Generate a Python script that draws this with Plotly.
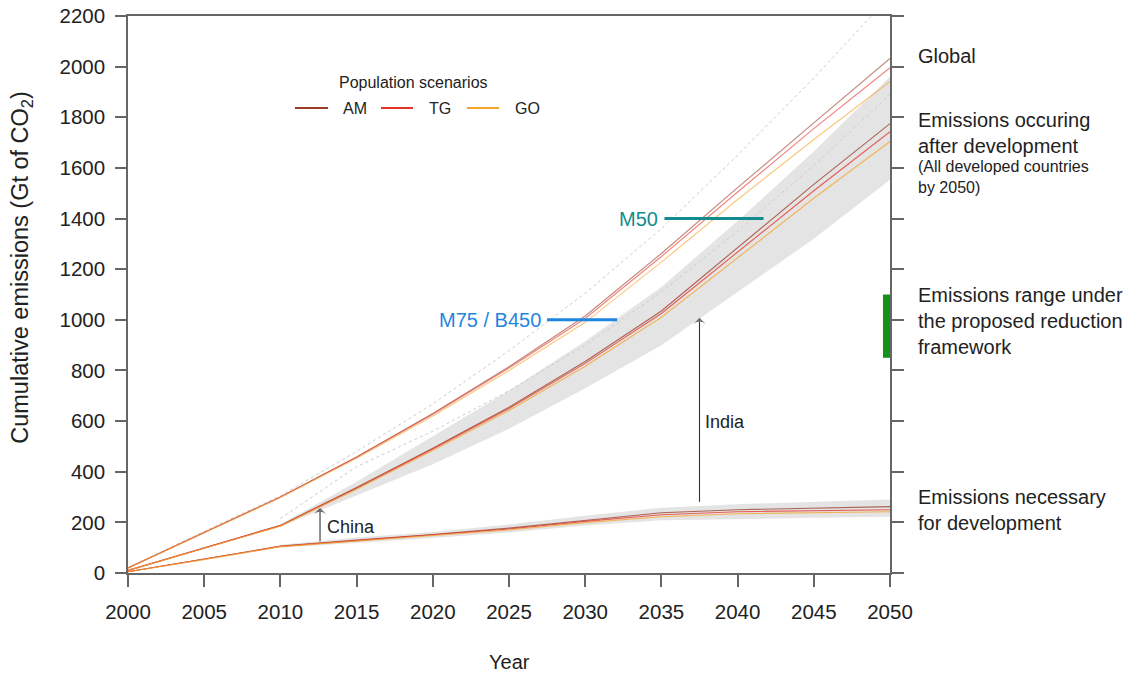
import plotly.graph_objects as go

# Years on the horizontal axis
years = [2000, 2005, 2010, 2015, 2020, 2025, 2030, 2035, 2040, 2045, 2050]
band_years = [2010, 2015, 2020, 2025, 2030, 2035, 2040, 2045, 2050]

# Global cumulative emissions (Gt CO2) per population scenario
global_am = [20, 160, 300, 458, 630, 815, 1015, 1262, 1522, 1778, 2032]
global_tg = [20, 160, 300, 457, 627, 810, 1005, 1250, 1505, 1755, 1996]
global_go = [20, 158, 298, 453, 620, 800, 990, 1228, 1475, 1712, 1941]

# Emissions occurring after development
after_am = [10, 98, 188, 338, 493, 655, 835, 1035, 1285, 1535, 1775]
after_tg = [10, 97, 187, 335, 490, 650, 828, 1025, 1268, 1510, 1743]
after_go = [10, 96, 185, 331, 484, 642, 817, 1010, 1245, 1480, 1704]

# Emissions necessary for development
need_am = [5, 55, 106, 130, 152, 177, 208, 238, 250, 256, 262]
need_tg = [5, 54, 105, 128, 150, 174, 204, 230, 242, 246, 250]
need_go = [5, 53, 104, 126, 147, 170, 199, 222, 234, 239, 242]

# Uncertainty ranges
after_band_low = [183, 305, 430, 570, 730, 900, 1110, 1320, 1553]
after_band_high = [192, 360, 540, 720, 915, 1130, 1390, 1665, 1960]
need_band_low = [100, 118, 138, 160, 188, 208, 214, 218, 222]
need_band_high = [112, 140, 162, 192, 226, 258, 272, 282, 290]

# Alternative global pathways (dotted)
alt_global_high = [20, 165, 305, 480, 668, 878, 1105, 1360, 1650, 1955, 2280]
alt_global_mid = [None, None, 215, 420, 560, 720, 900, 1110, 1350, 1610, 1890]

# Reference budgets
m75_b450 = 1000
m75_years = [2027.5, 2032.1]
m50 = 1400
m50_years = [2035.2, 2041.7]
framework_range = [850, 1100]

# Annotated arrows
china_year, china_from, china_to = 2012.6, 125, 257
india_year, india_from, india_to = 2037.5, 281, 1008

y_ticks = list(range(0, 2201, 200))
x_ticks = list(range(2000, 2051, 5))

FONT = "Arial, Liberation Sans, sans-serif"
TXT = "#222222"
AXIS = "#666666"
C_AM = "#9a3b25"
C_TG = "#e8322b"
C_GO = "#f5a52a"
BAND = "rgba(205,205,205,0.55)"

fig = go.Figure()


def band(xs, lo, hi):
    fig.add_trace(go.Scatter(x=xs, y=lo, mode="lines", line=dict(width=0),
                             showlegend=False, hoverinfo="skip"))
    fig.add_trace(go.Scatter(x=xs, y=hi, mode="lines", line=dict(width=0),
                             fill="tonexty", fillcolor=BAND,
                             showlegend=False, hoverinfo="skip"))


band(band_years, after_band_low, after_band_high)
band(band_years, need_band_low, need_band_high)

for ys in (alt_global_high, alt_global_mid):
    fig.add_trace(go.Scatter(x=years, y=ys, mode="lines", connectgaps=False,
                             line=dict(color="#cccccc", width=1, dash="dot"),
                             showlegend=False, hoverinfo="skip"))

for group, op in (((global_am, global_tg, global_go), 0.6),
                  ((after_am, after_tg, after_go), 0.75),
                  ((need_am, need_tg, need_go), 0.75)):
    for ys, col in zip(group, (C_AM, C_TG, C_GO)):
        fig.add_trace(go.Scatter(x=years, y=ys, mode="lines",
                                 line=dict(color=col, width=1.15),
                                 opacity=op, showlegend=False))

# Budget markers
fig.add_trace(go.Scatter(x=m75_years, y=[m75_b450] * 2, mode="lines",
                         line=dict(color="#1f86e0", width=3), showlegend=False))
fig.add_trace(go.Scatter(x=m50_years, y=[m50] * 2, mode="lines",
                         line=dict(color="#128c8c", width=3), showlegend=False))

# Framework range bar at the right edge
fig.add_trace(go.Scatter(x=[2049.8, 2049.8], y=framework_range, mode="lines",
                         line=dict(color="#16911a", width=8), showlegend=False,
                         cliponaxis=False))

# Arrows: a shaft with an arrow-head marker at the tip
for yr, y0, y1 in ((china_year, china_from, china_to), (india_year, india_from, india_to)):
    fig.add_trace(go.Scatter(
        x=[yr, yr], y=[y0, y1], mode="lines+markers",
        line=dict(color="#333333", width=1.1),
        marker=dict(symbol="arrow-wide", size=[0, 9], angleref="previous",
                    color="#333333", line=dict(width=0)),
        showlegend=False, hoverinfo="skip"))

# Carrier trace for the right-hand tick axis
fig.add_trace(go.Scatter(x=[2000], y=[0], yaxis="y2", mode="markers",
                         marker=dict(opacity=0), showlegend=False, hoverinfo="skip"))

ann = []
ann.append(dict(x=m75_years[0] - 0.25, y=m75_b450, text="M75 / B450", showarrow=False,
                xanchor="right", yanchor="middle",
                font=dict(family=FONT, size=20, color="#1f86e0")))
ann.append(dict(x=m50_years[0] - 0.3, y=m50, text="M50", showarrow=False,
                xanchor="right", yanchor="middle",
                font=dict(family=FONT, size=20, color="#128c8c")))

ann.append(dict(x=china_year + 0.3, y=182, text="China", showarrow=False,
                xanchor="left", yanchor="middle", font=dict(family=FONT, size=18, color=TXT)))
ann.append(dict(x=india_year + 0.25, y=597, text="India", showarrow=False,
                xanchor="left", yanchor="middle", font=dict(family=FONT, size=18, color=TXT)))

# Right-hand labels
right_labels = [
    (2042, "Global", 20),
    (1738, "Emissions occuring<br>after development", 20),
    (1564, "(All developed countries<br>by 2050)", 16),
    (995, "Emissions range under<br>the proposed reduction<br>framework", 20),
    (249, "Emissions necessary<br>for development", 20),
]
for yv, txt, fs in right_labels:
    ann.append(dict(x=1, xref="paper", y=yv, yref="y", xshift=26, text=txt,
                    showarrow=False, xanchor="left", yanchor="middle", align="left",
                    font=dict(family=FONT, size=fs, color=TXT)))

# Axis titles
ann.append(dict(x=0, xref="paper", xshift=-106, y=0.548, yref="paper",
                text="Cumulative emissions (Gt of CO<sub>2</sub>)", textangle=-90,
                showarrow=False, xanchor="center", yanchor="middle",
                font=dict(family=FONT, size=23.5, color=TXT)))
ann.append(dict(x=0.5, xref="paper", y=0, yref="paper", yshift=-89, text="Year",
                showarrow=False, xanchor="center", yanchor="middle",
                font=dict(family=FONT, size=20, color=TXT)))

# Hand-drawn legend for the population scenarios
PLOT_L, PLOT_W, PLOT_B, PLOT_H = 128, 762, 573, 557
ann.append(dict(x=(413 - PLOT_L) / PLOT_W, xref="paper", y=(PLOT_B - 83) / PLOT_H,
                yref="paper", text="Population scenarios", showarrow=False,
                xanchor="center", yanchor="middle",
                font=dict(family=FONT, size=16, color=TXT)))
shapes = []
for (x0, x1, tx, label, col) in ((295, 328, 341, "AM", C_AM),
                                 (381, 413, 427, "TG", C_TG),
                                 (467, 499, 513, "GO", C_GO)):
    yl = (PLOT_B - 108) / PLOT_H
    shapes.append(dict(type="line", xref="paper", yref="paper",
                       x0=(x0 - PLOT_L) / PLOT_W, x1=(x1 - PLOT_L) / PLOT_W, y0=yl, y1=yl,
                       line=dict(color=col, width=2)))
    ann.append(dict(x=(tx - PLOT_L) / PLOT_W, xref="paper", y=yl, yref="paper", text=label,
                    showarrow=False, xanchor="left", yanchor="middle",
                    font=dict(family=FONT, size=16, color=TXT)))

axis_common = dict(showgrid=False, zeroline=False, showline=True, linecolor=AXIS,
                   linewidth=1.5, ticks="outside", tickwidth=1.5, automargin=False,
                   tickcolor=AXIS, tickfont=dict(family=FONT, size=20.5, color=TXT))

fig.update_layout(
    width=1132, height=674,
    margin=dict(l=128, r=242, t=16, b=101, autoexpand=False),
    paper_bgcolor="white", plot_bgcolor="white",
    showlegend=False,
    xaxis=dict(range=[2000, 2050], tickvals=x_ticks, mirror=True, ticklen=12,
               ticklabelstandoff=8, **axis_common),
    yaxis=dict(range=[0, 2200], tickvals=y_ticks, ticklen=11,
               ticklabelstandoff=6, **axis_common),
    yaxis2=dict(range=[0, 2200], tickvals=y_ticks, overlaying="y", side="right",
                ticklen=12, showticklabels=False, **axis_common),
    annotations=ann,
    shapes=shapes,
)

fig.write_html("out.html")
